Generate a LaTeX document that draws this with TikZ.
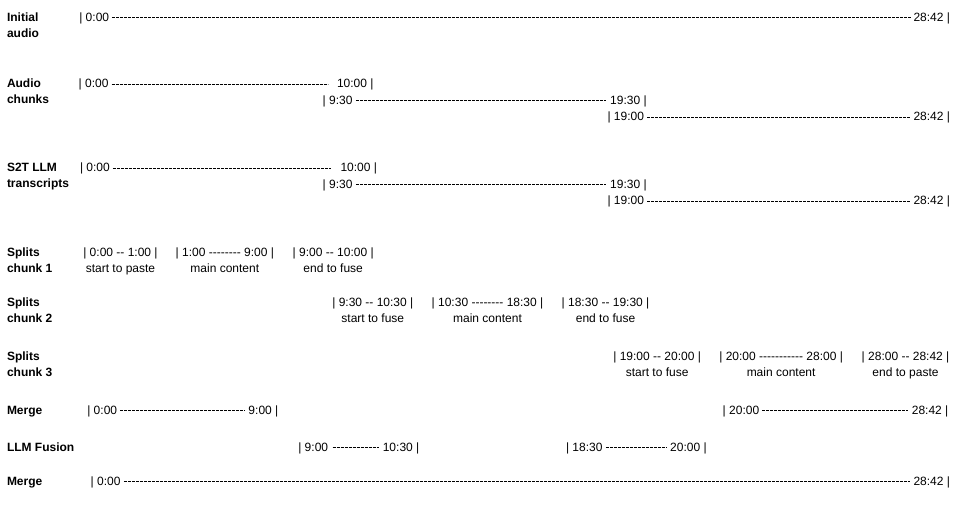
\documentclass[tikz,border=0pt]{standalone}
\usepackage{fontspec}
\setmainfont{Liberation Sans}[Ligatures=TeXOff]
\begin{document}
\begin{tikzpicture}[x=1pt,y=-1pt,
  every node/.style={inner sep=0pt,outer sep=0pt,font=\fontsize{12}{16}\selectfont},
  lab/.style={anchor=base west,align=left,font=\fontsize{12}{16}\selectfont\bfseries},
  tl/.style={anchor=base west},
  tr/.style={anchor=base east},
  sub/.style={anchor=base},
  seg/.style={line width=0.95pt,dash pattern=on 3pt off 1pt}]
\useasboundingbox (0,0) rectangle (957,512);
\newcommand{\seglink}[4]{\draw[seg] ([xshift=#3pt,yshift=3.4pt]#1.base east) -- ([xshift=-#4pt,yshift=3.4pt]#2.base west);}

% labels (base anchor of a two-line node lies on its last line)
\node[lab] (l1) at (7,37) {Initial\\audio};
\node[lab] (l2) at (7,103.5) {Audio\\chunks};
\node[lab] (l3) at (7,187.5) {S2T LLM\\transcripts};
\node[lab] (l4) at (7,272) {Splits\\chunk 1};
\node[lab] (l5) at (7,322.5) {Splits\\chunk 2};
\node[lab] (l6) at (7,376.5) {Splits\\chunk 3};
\node[lab] (l7) at (7,414) {Merge};
\node[lab] (l8) at (7,451) {LLM Fusion};
\node[lab] (l9) at (7,485) {Merge};

% initial audio
\node[tl] (i1a) at (79.3,21) {| 0:00};
\node[tr] (i1b) at (950,21) {28:42 |};
\seglink{i1a}{i1b}{3}{2.5}

% audio chunks
\node[tl] (a1a) at (78.7,87.5) {| 0:00};
\node[tr] (a1b) at (373.5,87.5) {10:00 |};
\seglink{a1a}{a1b}{3}{9.5}
\node[tl] (a2a) at (322.7,104) {| 9:30};
\node[tr] (a2b) at (646.7,104) {19:30 |};
\seglink{a2a}{a2b}{3.3}{4}
\node[tl] (a3a) at (607.5,120.5) {| 19:00};
\node[tr] (a3b) at (950,120.5) {28:42 |};
\seglink{a3a}{a3b}{3.3}{2.5}

% S2T transcripts
\node[tl] (s1a) at (80,171.5) {| 0:00};
\node[tr] (s1b) at (377,171.5) {10:00 |};
\seglink{s1a}{s1b}{3}{9.5}
\node[tl] (s2a) at (322.7,188) {| 9:30};
\node[tr] (s2b) at (646.7,188) {19:30 |};
\seglink{s2a}{s2b}{3.3}{4}
\node[tl] (s3a) at (607.5,204.5) {| 19:00};
\node[tr] (s3b) at (950,204.5) {28:42 |};
\seglink{s3a}{s3b}{3.3}{2.5}

% splits chunk 1
\node[tl] (c11) at (83.3,256) {| 0:00 -- 1:00 |};
\node[tl] (c12) at (175.7,256) {| 1:00 -------- 9:00 |};
\node[tl] (c13) at (292.7,256) {| 9:00 -- 10:00 |};
\node[sub] (c11s) at ([yshift=-16pt]c11.base) {start to paste};
\node[sub] (c12s) at ([yshift=-16pt]c12.base) {main content};
\node[sub] (c13s) at ([yshift=-16pt]c13.base) {end to fuse};

% splits chunk 2
\node[tl] (c21) at (332.3,306) {| 9:30 -- 10:30 |};
\node[tl] (c22) at (431.7,306) {| 10:30 -------- 18:30 |};
\node[tl] (c23) at (561.7,306) {| 18:30 -- 19:30 |};
\node[sub] (c21s) at ([yshift=-16.5pt]c21.base) {start to fuse};
\node[sub] (c22s) at ([yshift=-16.5pt]c22.base) {main content};
\node[sub] (c23s) at ([yshift=-16.5pt]c23.base) {end to fuse};

% splits chunk 3
\node[tl] (c31) at (613.3,360) {| 19:00 -- 20:00 |};
\node[tl] (c32) at (719.3,360) {| 20:00 ----------- 28:00 |};
\node[tl] (c33) at (861.7,360) {| 28:00 -- 28:42 |};
\node[sub] (c31s) at ([yshift=-16.5pt]c31.base) {start to fuse};
\node[sub] (c32s) at ([yshift=-16.5pt]c32.base) {main content};
\node[sub] (c33s) at ([yshift=-16.5pt]c33.base) {end to paste};

% merge
\node[tl] (m1a) at (87.3,414) {| 0:00};
\node[tr] (m1b) at (278.3,414) {9:00 |};
\seglink{m1a}{m1b}{3}{4}
\node[tl] (m2a) at (722.7,414) {| 20:00};
\node[tr] (m2b) at (948.3,414) {28:42 |};
\seglink{m2a}{m2b}{3.3}{4}

% LLM fusion
\node[tl] (f1a) at (298.3,451) {| 9:00};
\node[tr] (f1b) at (419.3,451) {10:30 |};
\seglink{f1a}{f1b}{4.5}{4}
\node[tl] (f2a) at (566,451) {| 18:30};
\node[tr] (f2b) at (706.7,451) {20:00 |};
\seglink{f2a}{f2b}{3.3}{3.3}

% merge 2
\node[tl] (g1a) at (90.7,485) {| 0:00};
\node[tr] (g1b) at (950,485) {28:42 |};
\seglink{g1a}{g1b}{3.3}{4}
\end{tikzpicture}
\end{document}
